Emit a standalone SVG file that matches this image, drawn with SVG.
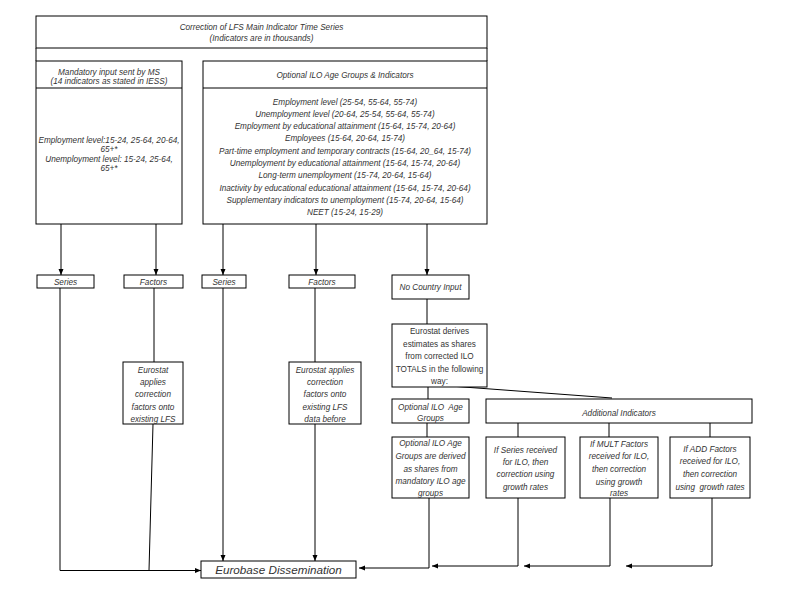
<svg xmlns="http://www.w3.org/2000/svg" width="800" height="600" viewBox="0 0 800 600">
<style>
.box{fill:#fff;stroke:#000;stroke-width:1}
.ln{fill:none;stroke:#000;stroke-width:1}
.t{font-family:"Liberation Sans",Arial,sans-serif;font-size:8.2px;font-style:italic;fill:#333;text-anchor:middle}
.u{font-style:normal}
.big{font-size:11.7px}
</style>
<defs>
<marker id="ah" markerUnits="userSpaceOnUse" markerWidth="6" markerHeight="6" refX="6" refY="3" orient="auto">
<path d="M0,0.5 L6,3 L0,5.5 z" fill="#000"/>
</marker>
</defs>
<rect width="800" height="600" fill="#fff"/>
<g id="connectors">
<path class="ln" marker-end="url(#ah)" d="M61,224 V275"/>
<path class="ln" marker-end="url(#ah)" d="M156,224 V275"/>
<path class="ln" marker-end="url(#ah)" d="M223,224 V275"/>
<path class="ln" marker-end="url(#ah)" d="M316,224 V275"/>
<path class="ln" marker-end="url(#ah)" d="M427,224 V275"/>
<path class="ln" d="M427,299 V324"/>
<path class="ln" d="M428,387 V399"/>
<path class="ln" d="M450,386 L612,398"/>
<path class="ln" d="M427,423 V437"/>
<path class="ln" d="M518,423 V437"/>
<path class="ln" d="M609,423 V437"/>
<path class="ln" d="M710,423 V437"/>
<path class="ln" marker-end="url(#ah)" d="M60,288 V570.5 H201"/>
<path class="ln" d="M154,288 V362"/>
<path class="ln" d="M153,424 L149,570.5"/>
<path class="ln" marker-end="url(#ah)" d="M223,288 V561"/>
<path class="ln" d="M315,288 V362"/>
<path class="ln" marker-end="url(#ah)" d="M315,424 V561"/>
<path class="ln" marker-end="url(#ah)" d="M429,498 V568 H359"/>
<path class="ln" marker-end="url(#ah)" d="M518,498 V566 H432"/>
<path class="ln" marker-end="url(#ah)" d="M610,498 V566 H524"/>
<path class="ln" marker-end="url(#ah)" d="M712,498 V566 H626"/>
</g>
<g id="top">
<rect class="box" x="36" y="16" width="451" height="32"/>
<path class="ln" d="M36,48 V61 M487,48 V61"/>
<text class="t" x="261.5" y="29.5">Correction of LFS Main Indicator Time Series</text>
<text class="t" x="261.5" y="41">(Indicators are in thousands)</text>
</g>
<g id="mandatory">
<rect class="box" x="36" y="61" width="146" height="163"/>
<path class="ln" d="M36,88 H182"/>
<text class="t" x="109" y="75">Mandatory input sent by MS</text>
<text class="t" x="109" y="84">(14 indicators as stated in IESS)</text>
<text class="t" x="109" y="143">Employment level:15-24, 25-64, 20-64,</text>
<text class="t" x="109" y="152.3">65+*</text>
<text class="t" x="109" y="161.6">Unemployment level: 15-24, 25-64,</text>
<text class="t" x="109" y="171">65+*</text>
</g>
<g id="optional">
<rect class="box" x="203" y="61" width="284" height="163"/>
<path class="ln" d="M203,88 H487"/>
<text class="t" x="345" y="78">Optional ILO Age Groups &amp; Indicators</text>
<text class="t" x="345" y="104.5">Employment level (25-54, 55-64, 55-74)</text>
<text class="t" x="345" y="116.8">Unemployment level (20-64, 25-54, 55-64, 55-74)</text>
<text class="t" x="345" y="129.1">Employment by educational attainment (15-64, 15-74, 20-64)</text>
<text class="t" x="345" y="141.4">Employees (15-64, 20-64, 15-74)</text>
<text class="t" x="345" y="153.7">Part-time employment and temporary contracts (15-64, 20_64, 15-74)</text>
<text class="t" x="345" y="166">Unemployment by educational attainment (15-64, 15-74, 20-64)</text>
<text class="t" x="345" y="178.3">Long-term unemployment (15-74, 20-64, 15-64)</text>
<text class="t" x="345" y="190.6">Inactivity by educational educational attainment (15-64, 15-74, 20-64)</text>
<text class="t" x="345" y="202.9">Supplementary indicators to unemployment (15-74, 20-64, 15-64)</text>
<text class="t" x="345" y="215.2">NEET (15-24, 15-29)</text>
</g>
<g id="series1">
<rect class="box" x="37" y="275" width="57" height="13"/>
<text class="t" x="65.5" y="284.5">Series</text>
</g>
<g id="factors1">
<rect class="box" x="124" y="275" width="59" height="13"/>
<text class="t" x="153.5" y="284.5">Factors</text>
</g>
<g id="series2">
<rect class="box" x="202" y="275" width="44" height="13"/>
<text class="t" x="224" y="284.5">Series</text>
</g>
<g id="factors2">
<rect class="box" x="289" y="275" width="66" height="13"/>
<text class="t" x="322" y="284.5">Factors</text>
</g>
<g id="nocountry">
<rect class="box" x="392" y="275" width="77" height="24"/>
<text class="t" x="430.5" y="290">No Country Input</text>
</g>
<g id="derives">
<rect class="box" x="392" y="324" width="95" height="63"/>
<text class="t u" x="439.5" y="334">Eurostat derives</text>
<text class="t u" x="439.5" y="346.5">estimates as shares</text>
<text class="t u" x="439.5" y="359">from corrected ILO</text>
<text class="t u" x="439.5" y="371.5">TOTALS in the following</text>
<text class="t u" x="439.5" y="384">way:</text>
</g>
<g id="applies1">
<rect class="box" x="123" y="362" width="60" height="62"/>
<text class="t" x="153" y="373">Eurostat</text>
<text class="t" x="153" y="385">applies</text>
<text class="t" x="153" y="397">correction</text>
<text class="t" x="153" y="409.5">factors onto</text>
<text class="t" x="153" y="422">existing LFS</text>
</g>
<g id="applies2">
<rect class="box" x="289" y="362" width="72" height="62"/>
<text class="t" x="325" y="373">Eurostat applies</text>
<text class="t" x="325" y="385">correction</text>
<text class="t" x="325" y="397">factors onto</text>
<text class="t" x="325" y="409.5">existing LFS</text>
<text class="t" x="325" y="422">data before</text>
</g>
<g id="optgroups">
<rect class="box" x="392" y="399" width="77" height="24"/>
<text class="t" x="430.5" y="409.5" xml:space="preserve">Optional ILO  Age</text>
<text class="t" x="430.5" y="421">Groups</text>
</g>
<g id="additional">
<rect class="box" x="486" y="399" width="266" height="24"/>
<text class="t" x="619" y="415.5">Additional Indicators</text>
</g>
<g id="derived">
<rect class="box" x="392" y="437" width="77" height="61"/>
<text class="t" x="430.5" y="446">Optional ILO Age</text>
<text class="t" x="430.5" y="459">Groups are derived</text>
<text class="t" x="430.5" y="472">as shares from</text>
<text class="t" x="430.5" y="483.5">mandatory ILO age</text>
<text class="t" x="430.5" y="496">groups</text>
</g>
<g id="ifseries">
<rect class="box" x="486" y="437" width="79" height="61"/>
<text class="t" x="525.5" y="453">If Series received</text>
<text class="t" x="525.5" y="464.5">for ILO, then</text>
<text class="t" x="525.5" y="477">correction using</text>
<text class="t" x="525.5" y="489.5">growth rates</text>
</g>
<g id="ifmult">
<rect class="box" x="580" y="437" width="78" height="61"/>
<text class="t" x="619" y="447">If MULT Factors</text>
<text class="t" x="619" y="458.5">received for ILO,</text>
<text class="t" x="619" y="472">then correction</text>
<text class="t" x="619" y="484.5">using growth</text>
<text class="t" x="619" y="496">rates</text>
</g>
<g id="ifadd">
<rect class="box" x="670" y="437" width="80" height="61"/>
<text class="t" x="710" y="452">If ADD Factors</text>
<text class="t" x="710" y="464">received for ILO,</text>
<text class="t" x="710" y="477">then correction</text>
<text class="t" x="710" y="489.5" xml:space="preserve">using  growth rates</text>
</g>
<g id="eurobase">
<rect class="box" x="201" y="561" width="155" height="17"/>
<text class="t big" x="278.5" y="574">Eurobase Dissemination</text>
</g>
</svg>
